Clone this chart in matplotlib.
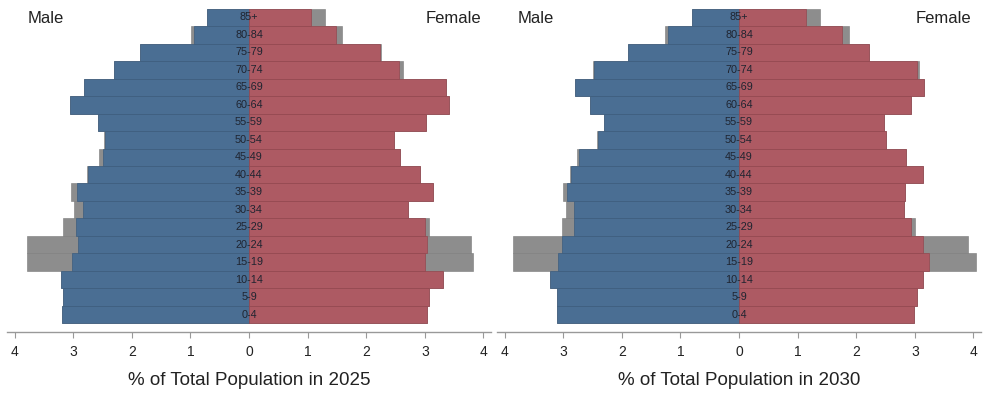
import matplotlib
matplotlib.use("Agg")
import matplotlib.pyplot as plt
import numpy as np

plt.rcParams['font.family'] = ['Liberation Sans', 'DejaVu Sans']

ages = ["0-4", "5-9", "10-14", "15-19", "20-24", "25-29", "30-34", "35-39",
        "40-44", "45-49", "50-54", "55-59", "60-64", "65-69", "70-74",
        "75-79", "80-84", "85+"]

# 2025 (percent of total population), listed from 0-4 up to 85+
male_2025 = [3.19, 3.18, 3.20, 3.02, 2.92, 2.95, 2.84, 2.94, 2.75, 2.50,
             2.46, 2.57, 3.05, 2.81, 2.31, 1.86, 0.94, 0.71]
male_total_2025 = [3.19, 3.18, 3.20, 3.78, 3.78, 3.18, 2.98, 3.04, 2.77, 2.56,
                   2.48, 2.57, 3.05, 2.81, 2.31, 1.86, 0.99, 0.71]
female_2025 = [3.04, 3.08, 3.31, 3.00, 3.03, 3.01, 2.71, 3.14, 2.91, 2.58,
               2.47, 3.02, 3.42, 3.37, 2.56, 2.24, 1.48, 1.05]
female_total_2025 = [3.04, 3.08, 3.31, 3.82, 3.79, 3.07, 2.71, 3.14, 2.91, 2.58,
                     2.47, 3.02, 3.42, 3.37, 2.62, 2.26, 1.58, 1.29]

# 2030
male_2030 = [3.11, 3.11, 3.23, 3.09, 3.02, 2.81, 2.81, 2.93, 2.86, 2.73,
             2.41, 2.31, 2.54, 2.80, 2.48, 1.90, 1.21, 0.80]
male_total_2030 = [3.11, 3.11, 3.23, 3.86, 3.86, 3.02, 2.96, 3.01, 2.88, 2.77,
                   2.43, 2.31, 2.54, 2.80, 2.50, 1.90, 1.26, 0.80]
female_2030 = [2.98, 3.03, 3.14, 3.25, 3.14, 2.94, 2.81, 2.83, 3.14, 2.85,
               2.51, 2.47, 2.94, 3.15, 3.04, 2.22, 1.76, 1.14]
female_total_2030 = [2.98, 3.03, 3.14, 4.05, 3.90, 3.00, 2.81, 2.83, 3.14, 2.85,
                     2.51, 2.47, 2.94, 3.15, 3.08, 2.22, 1.88, 1.38]

years = ["2025", "2030"]
tick_vals = [-4, -3, -2, -1, 0, 1, 2, 3, 4]
tick_labels = ["4", "3", "2", "1", "0", "1", "2", "3", "4"]

BLUE = "#4a6e93"
RED = "#ad5a63"
GRAY = "#8d8d8d"

fig = plt.figure(figsize=(9.85, 3.94), dpi=100)
W, H = 985, 394
panels = [
    (7, 491, male_2025, male_total_2025, female_2025, female_total_2025),
    (497, 981, male_2030, male_total_2030, female_2030, female_total_2030),
]

y = np.arange(len(ages))
for (x0, x1, m, mt, f, ft), yr in zip(panels, years):
    ax = fig.add_axes([x0 / W, 1 - 332 / H, (x1 - x0) / W, 332 / H])
    ax.barh(y, -np.array(mt), height=1.0, color=GRAY, edgecolor="#7a7a7a", linewidth=0.4)
    ax.barh(y, np.array(ft), height=1.0, color=GRAY, edgecolor="#7a7a7a", linewidth=0.4)
    ax.barh(y, -np.array(m), height=1.0, color=BLUE, edgecolor="#3d5d7e", linewidth=0.5)
    ax.barh(y, np.array(f), height=1.0, color=RED, edgecolor="#94474f", linewidth=0.5)
    for yi, lab in zip(y, ages):
        ax.text(0, yi, lab, ha="center", va="center", fontsize=7.8, color="#1f2430")
    half = (x1 - x0) / 2 / 58.6
    ax.set_xlim(-half, half)
    ax.set_ylim(-1.0, 18.0)
    ax.set_xticks(tick_vals)
    ax.set_xticklabels(tick_labels, fontsize=10, color="#222222")
    ax.set_yticks([])
    for s in ["top", "right", "left"]:
        ax.spines[s].set_visible(False)
    ax.spines["bottom"].set_color("#999999")
    ax.spines["bottom"].set_linewidth(1.0)
    ax.tick_params(axis="x", direction="out", length=4, color="#999999", pad=5)
    ax.set_xlabel("% of Total Population in " + yr, fontsize=13.5, color="#222222", labelpad=10)
    ax.text(0.043, 0.945, "Male", transform=ax.transAxes, fontsize=12, color="#222222",
            ha="left", va="center")
    ax.text(0.979, 0.945, "Female", transform=ax.transAxes, fontsize=12, color="#222222",
            ha="right", va="center")

fig.savefig("out.png", dpi=100, facecolor="white")
